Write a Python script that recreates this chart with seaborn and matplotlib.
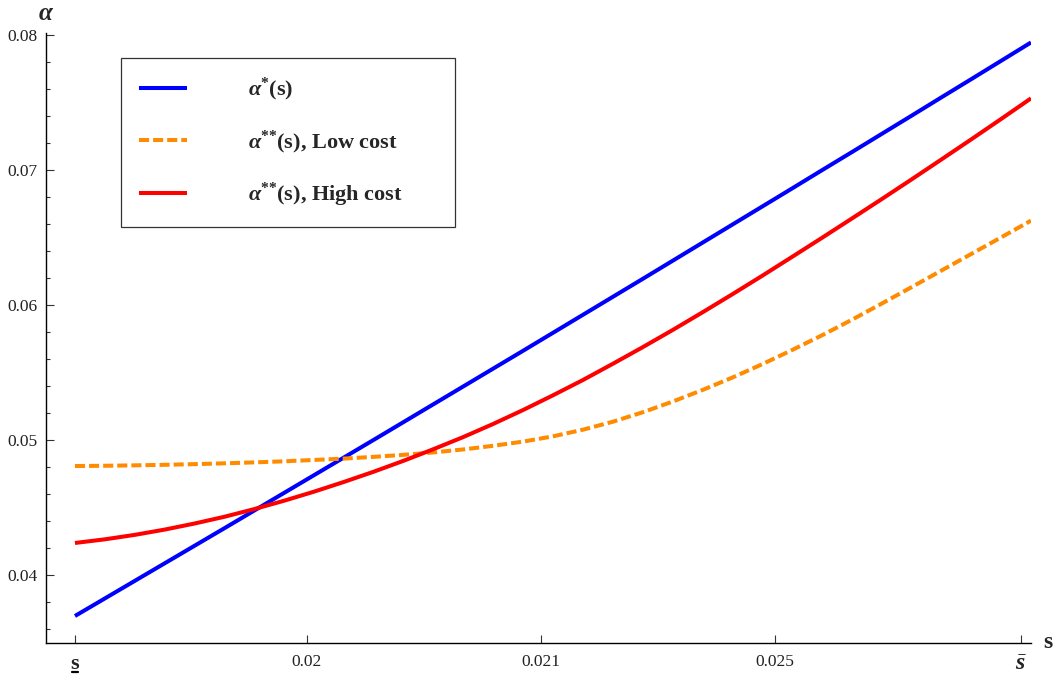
import matplotlib
matplotlib.use("Agg")
import matplotlib.pyplot as plt
from matplotlib.lines import Line2D
import pandas as pd
import seaborn as sns
from matplotlib.ticker import FixedLocator, MultipleLocator, NullLocator

# ---- data (x is the position along the s axis, 0 = s_lower, 1 = right end) ----
s_pos = [0.0, 0.03125, 0.0625, 0.09375, 0.125, 0.15625, 0.1875, 0.21875, 0.25,
         0.28125, 0.3125, 0.34375, 0.375, 0.40625, 0.4375, 0.46875, 0.5,
         0.53125, 0.5625, 0.59375, 0.625, 0.65625, 0.6875, 0.71875, 0.75,
         0.78125, 0.8125, 0.84375, 0.875, 0.90625, 0.9375, 0.96875, 1.0]
alpha_star = [0.03696, 0.03826, 0.03956, 0.04086, 0.04216, 0.04346, 0.04477, 0.04608,
              0.04739, 0.04870, 0.05001, 0.05133, 0.05265, 0.05397, 0.05529, 0.05661,
              0.05794, 0.05927, 0.06060, 0.06193, 0.06327, 0.06461, 0.06595, 0.06729,
              0.06863, 0.06998, 0.07132, 0.07267, 0.07402, 0.07538, 0.07673, 0.07809, 0.07945]
alpha_low = [0.04807, 0.04809, 0.04812, 0.04816, 0.04821, 0.04827, 0.04834, 0.04842,
             0.04852, 0.04862, 0.04875, 0.04890, 0.04908, 0.04930, 0.04957, 0.04988,
             0.05027, 0.05076, 0.05135, 0.05205, 0.05284, 0.05370, 0.05462, 0.05561,
             0.05666, 0.05775, 0.05890, 0.06010, 0.06132, 0.06255, 0.06378, 0.06501, 0.06625]
alpha_high = [0.04237, 0.04264, 0.04297, 0.04336, 0.04381, 0.04431, 0.04488, 0.04550,
              0.04617, 0.04689, 0.04765, 0.04846, 0.04932, 0.05022, 0.05119, 0.05222,
              0.05331, 0.05444, 0.05564, 0.05687, 0.05814, 0.05945, 0.06079, 0.06216,
              0.06356, 0.06497, 0.06640, 0.06784, 0.06930, 0.07078, 0.07227, 0.07378, 0.07531]
series_names = [r"$\mathbfit{\alpha}^{\mathbf{*}}$(s)",
                r"$\mathbfit{\alpha}^{\mathbf{*}\mathbf{*}}$(s), Low cost",
                r"$\mathbfit{\alpha}^{\mathbf{*}\mathbf{*}}$(s), High cost"]
series_colors = ["#0000ff", "#ff8c00", "#ff0000"]
x_tick_pos = [0.0, 0.2427, 0.4874, 0.7322, 0.9895]
x_tick_labels = ["s", "0.02", "0.021", "0.025", r"$\bar{\mathbfit{s}}$"]
y_ticks = [0.04, 0.05, 0.06, 0.07, 0.08]
y_tick_labels = ["0.04", "0.05", "0.06", "0.07", "0.08"]

sns.set_theme(style="ticks")
plt.rcParams["font.family"] = ["Liberation Serif", "DejaVu Serif"]
plt.rcParams["mathtext.fontset"] = "custom"
plt.rcParams["mathtext.rm"] = "Liberation Serif"
plt.rcParams["mathtext.it"] = "Liberation Serif:italic"
plt.rcParams["mathtext.bf"] = "Liberation Serif:bold"
plt.rcParams["mathtext.bfit"] = "Liberation Serif:italic:bold"

n = len(s_pos)
df = pd.DataFrame({
    "s": s_pos * 3,
    "alpha": alpha_star + alpha_low + alpha_high,
    "series": [series_names[0]] * n + [series_names[1]] * n + [series_names[2]] * n,
})

W, H = 1057, 679
fig = plt.figure(figsize=(W / 100, H / 100), dpi=100)
ax = fig.add_axes([46 / W, 1 - 643 / H, (1031 - 46) / W, (643 - 33) / H])

sns.lineplot(data=df, x="s", y="alpha", hue="series", style="series",
             hue_order=series_names, style_order=series_names,
             palette=dict(zip(series_names, series_colors)),
             dashes={series_names[0]: "", series_names[1]: (2.5, 1.0), series_names[2]: ""},
             linewidth=2.9, ax=ax, legend=True)
for ln in ax.lines:
    ln.set_dash_capstyle("butt")
    ln.set_solid_capstyle("butt")

ax.set_xlim(-0.0303, 1.0)
ax.set_ylim(0.03496, 0.08015)
ax.xaxis.set_major_locator(FixedLocator(x_tick_pos))
ax.set_xticklabels(x_tick_labels)
ax.xaxis.set_minor_locator(NullLocator())
ax.yaxis.set_major_locator(FixedLocator(y_ticks))
ax.set_yticklabels(y_tick_labels)
ax.yaxis.set_minor_locator(MultipleLocator(0.002))
ax.tick_params(axis="both", which="major", direction="in", length=5.5, width=0.8,
               color="#333333", labelsize=12.5, pad=6, labelcolor="#222222")
ax.tick_params(axis="x", which="major", pad=8)
ax.tick_params(axis="y", which="minor", direction="in", length=3, width=0.8, color="#333333")
xlabs = ax.get_xticklabels()
xlabs[0].set_fontweight("bold")
xlabs[0].set_fontsize(16)
xlabs[-1].set_fontsize(17)
ax.set_xlabel("")
ax.set_ylabel("")
for side in ["top", "right"]:
    ax.spines[side].set_visible(False)
for side in ["left", "bottom"]:
    ax.spines[side].set_linewidth(1.0)
    ax.spines[side].set_color("black")

ax.text(1.0 + 12 / 985, 0.0, "s", transform=ax.transAxes, fontsize=17, fontweight="bold",
        ha="left", va="center")
ax.text(0.0, 1.0 + 19 / 610, r"$\mathbfit{\alpha}$", transform=ax.transAxes, fontsize=18,
        ha="center", va="center")

handles, labels = ax.get_legend_handles_labels()
leg = ax.legend(handles, labels, loc="upper left",
                bbox_to_anchor=((121 - 46) / 985, (643 - 58) / 610, 334 / 985, 0.0),
                mode="expand", frameon=True, fancybox=False, shadow=False,
                edgecolor="#333333", framealpha=1.0,
                prop={"family": "Liberation Serif", "weight": "bold", "size": 16},
                handlelength=2.15, handletextpad=2.75, labelspacing=1.12,
                borderpad=0.82, borderaxespad=0.0)
leg.get_frame().set_linewidth(0.9)

# underline the lower-bound tick label "s"
fig.canvas.draw()
bb = xlabs[0].get_window_extent(renderer=fig.canvas.get_renderer())
inv = fig.transFigure.inverted()
(x0, y0), (x1, _) = inv.transform([(bb.x0 + 1, bb.y0 + 2), (bb.x1 - 1, bb.y0 + 2)])
fig.add_artist(Line2D([x0, x1], [y0, y0], transform=fig.transFigure, color="black", linewidth=1.6))

fig.savefig("out.png", dpi=100, facecolor="white")
